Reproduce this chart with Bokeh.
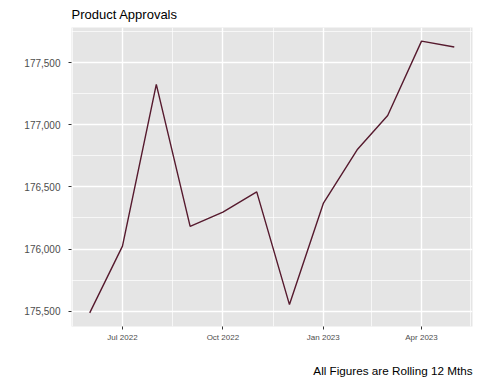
import pandas as pd
from bokeh.plotting import figure
from bokeh.models import (FixedTicker, DatetimeTickFormatter, NumeralTickFormatter,
                          Range1d, Title, ColumnDataSource)
from bokeh.embed import file_html
from bokeh.resources import INLINE

months = ["2022-06-01", "2022-07-01", "2022-08-01", "2022-09-01", "2022-10-01", "2022-11-01",
          "2022-12-01", "2023-01-01", "2023-02-01", "2023-03-01", "2023-04-01", "2023-05-01"]
approvals = [175486, 176024, 177325, 176182, 176297, 176460,
             175553, 176367, 176799, 177075, 177674, 177626]
x_tick_dates = ["2022-07-01", "2022-10-01", "2023-01-01", "2023-04-01"]
x_minor_dates = ["2022-05-16", "2022-08-16", "2022-11-16", "2023-02-14", "2023-05-16"]
y_ticks = [175500, 176000, 176500, 177000, 177500]
y_minor = [175750, 176250, 176750, 177250, 177750]
title_text = "Product Approvals"
caption_text = "All Figures are Rolling 12 Mths"

FONT = "Liberation Sans"

dates = pd.to_datetime(months)
src = ColumnDataSource(dict(x=dates, y=approvals))

def ms(s):
    return pd.Timestamp(s).value / 1e6

xspan = ms(months[-1]) - ms(months[0])
ymin, ymax = min(approvals), max(approvals)
yspan = ymax - ymin

p = figure(width=480, height=384, x_axis_type="datetime", output_backend="svg",
           toolbar_location=None,
           x_range=Range1d(ms(months[0]) - 0.05 * xspan, ms(months[-1]) + 0.05 * xspan),
           y_range=Range1d(ymin - 0.05 * yspan, ymax + 0.05 * yspan),
           min_border_left=71, min_border_right=8, min_border_top=27, min_border_bottom=58)

p.background_fill_color = "#E5E5E5"
p.border_fill_color = "white"
p.outline_line_color = None

p.xaxis.ticker = FixedTicker(ticks=[ms(d) for d in x_tick_dates],
                             minor_ticks=[ms(d) for d in x_minor_dates])
p.xaxis.formatter = DatetimeTickFormatter(months="%b %Y", days="%b %Y", years="%b %Y")
p.yaxis.ticker = FixedTicker(ticks=y_ticks, minor_ticks=y_minor)
p.yaxis.formatter = NumeralTickFormatter(format="0,0")

for ax in (p.xaxis[0], p.yaxis[0]):
    ax.axis_line_color = None
    ax.major_tick_line_color = "#333333"
    ax.major_tick_line_width = 1
    ax.major_tick_out = 3
    ax.major_tick_in = 0
    ax.minor_tick_line_color = None
    ax.major_label_text_color = "#4D4D4D"
    ax.major_label_text_font = FONT
p.yaxis.major_label_text_font_size = "10px"
p.yaxis.major_label_standoff = 7
p.xaxis.major_label_text_font_size = "8px"
p.xaxis.major_label_standoff = 2

for g in (p.xgrid[0], p.ygrid[0]):
    g.grid_line_color = "white"
    g.grid_line_width = 1.4
    g.minor_grid_line_color = "white"
    g.minor_grid_line_width = 0.7

p.line("x", "y", source=src, line_color="#561A2E", line_width=1.4)

p.add_layout(Title(text=title_text, align="left", vertical_align="middle", text_font=FONT,
                   text_font_size="13px", text_font_style="normal", text_color="black",
                   standoff=9), "above")
# spacer between the x axis and the caption
p.add_layout(Title(text=" ", text_font_size="1px", standoff=13), "below")
p.add_layout(Title(text=caption_text, align="right", text_font=FONT,
                   text_font_size="11.7px", text_font_style="normal", text_color="black",
                   standoff=2), "below")

open("out.html", "w").write(file_html(p, INLINE))
